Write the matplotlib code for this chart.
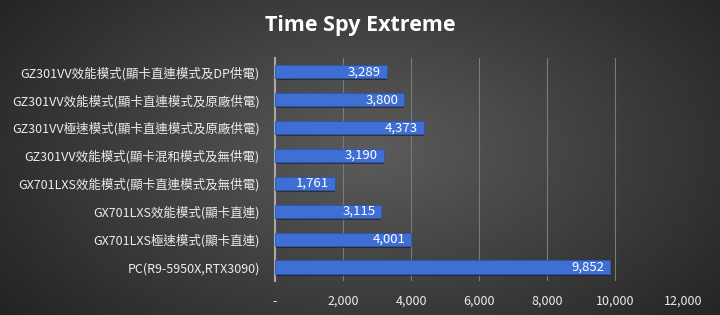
import numpy as np
import matplotlib
matplotlib.use("Agg")
import matplotlib.pyplot as plt
from matplotlib.ticker import FuncFormatter

plt.rcParams['font.family'] = ['Noto Sans CJK TC', 'DejaVu Sans']

# data, top to bottom as shown
labels = [
    "GZ301VV效能模式(顯卡直連模式及DP供電)",
    "GZ301VV效能模式(顯卡直連模式及原廠供電)",
    "GZ301VV極速模式(顯卡直連模式及原廠供電)",
    "GZ301VV效能模式(顯卡混和模式及無供電)",
    "GX701LXS效能模式(顯卡直連模式及無供電)",
    "GX701LXS效能模式(顯卡直連)",
    "GX701LXS極速模式(顯卡直連)",
    "PC(R9-5950X,RTX3090)",
]
scores = [3289, 3800, 4373, 3190, 1761, 3115, 4001, 9852]
xticks = [0, 2000, 4000, 6000, 8000, 10000, 12000]

fig = plt.figure(figsize=(7.2, 3.15), dpi=100)

# radial gradient background
bg = fig.add_axes([0, 0, 1, 1])
yy, xx = np.mgrid[0:315, 0:720]
d = np.sqrt(((xx - 370) / 520.0) ** 2 + ((yy - 150) / 300.0) ** 2)
shade = np.clip(0.36 - 0.25 * d, 0.1, 0.4)
bg.imshow(np.dstack([shade, shade, shade]), aspect='auto', extent=[0, 1, 0, 1])
bg.axis('off')

ax = fig.add_axes([0.382, 0.108, 0.567, 0.708])
ax.patch.set_alpha(0)
y = np.arange(len(labels))
ax.barh(y + 0.07, scores, height=0.47, color='#1a1a1a', alpha=0.6, zorder=2)
bars = ax.barh(y, scores, height=0.47, color='#3f6fd4', edgecolor='#2c56a8', linewidth=0.6, zorder=3)
for b, v in zip(bars, scores):
    ax.text(v - 170, b.get_y() + b.get_height() / 2, f"{v:,}", ha='right', va='center',
            color='white', fontsize=9.5, zorder=4)

ax.set_ylim(len(labels) - 0.5, -0.5)
ax.set_xlim(0, 12000)
ax.set_xticks(xticks)
ax.xaxis.set_major_formatter(FuncFormatter(lambda v, p: "-" if v == 0 else f"{int(v):,}"))
ax.set_yticks(y)
ax.set_yticklabels(labels)
ax.tick_params(axis='both', length=0, colors='#ececec', labelsize=9)
ax.tick_params(axis='y', pad=11)
ax.tick_params(axis='x', pad=10)
ax.grid(axis='x', color='#7a7a7a', linewidth=0.8, zorder=0)
for s in ['top', 'right', 'bottom']:
    ax.spines[s].set_visible(False)
ax.spines['left'].set_color('#a8a8a8')
ax.spines['left'].set_linewidth(1.5)

title = fig.text(0.5, 0.92, "Time Spy Extreme", ha='center', va='center', color='white',
                 fontsize=15.5, fontweight='bold', family=['Open Sans', 'DejaVu Sans'])

fig.savefig("out.png", dpi=100)
